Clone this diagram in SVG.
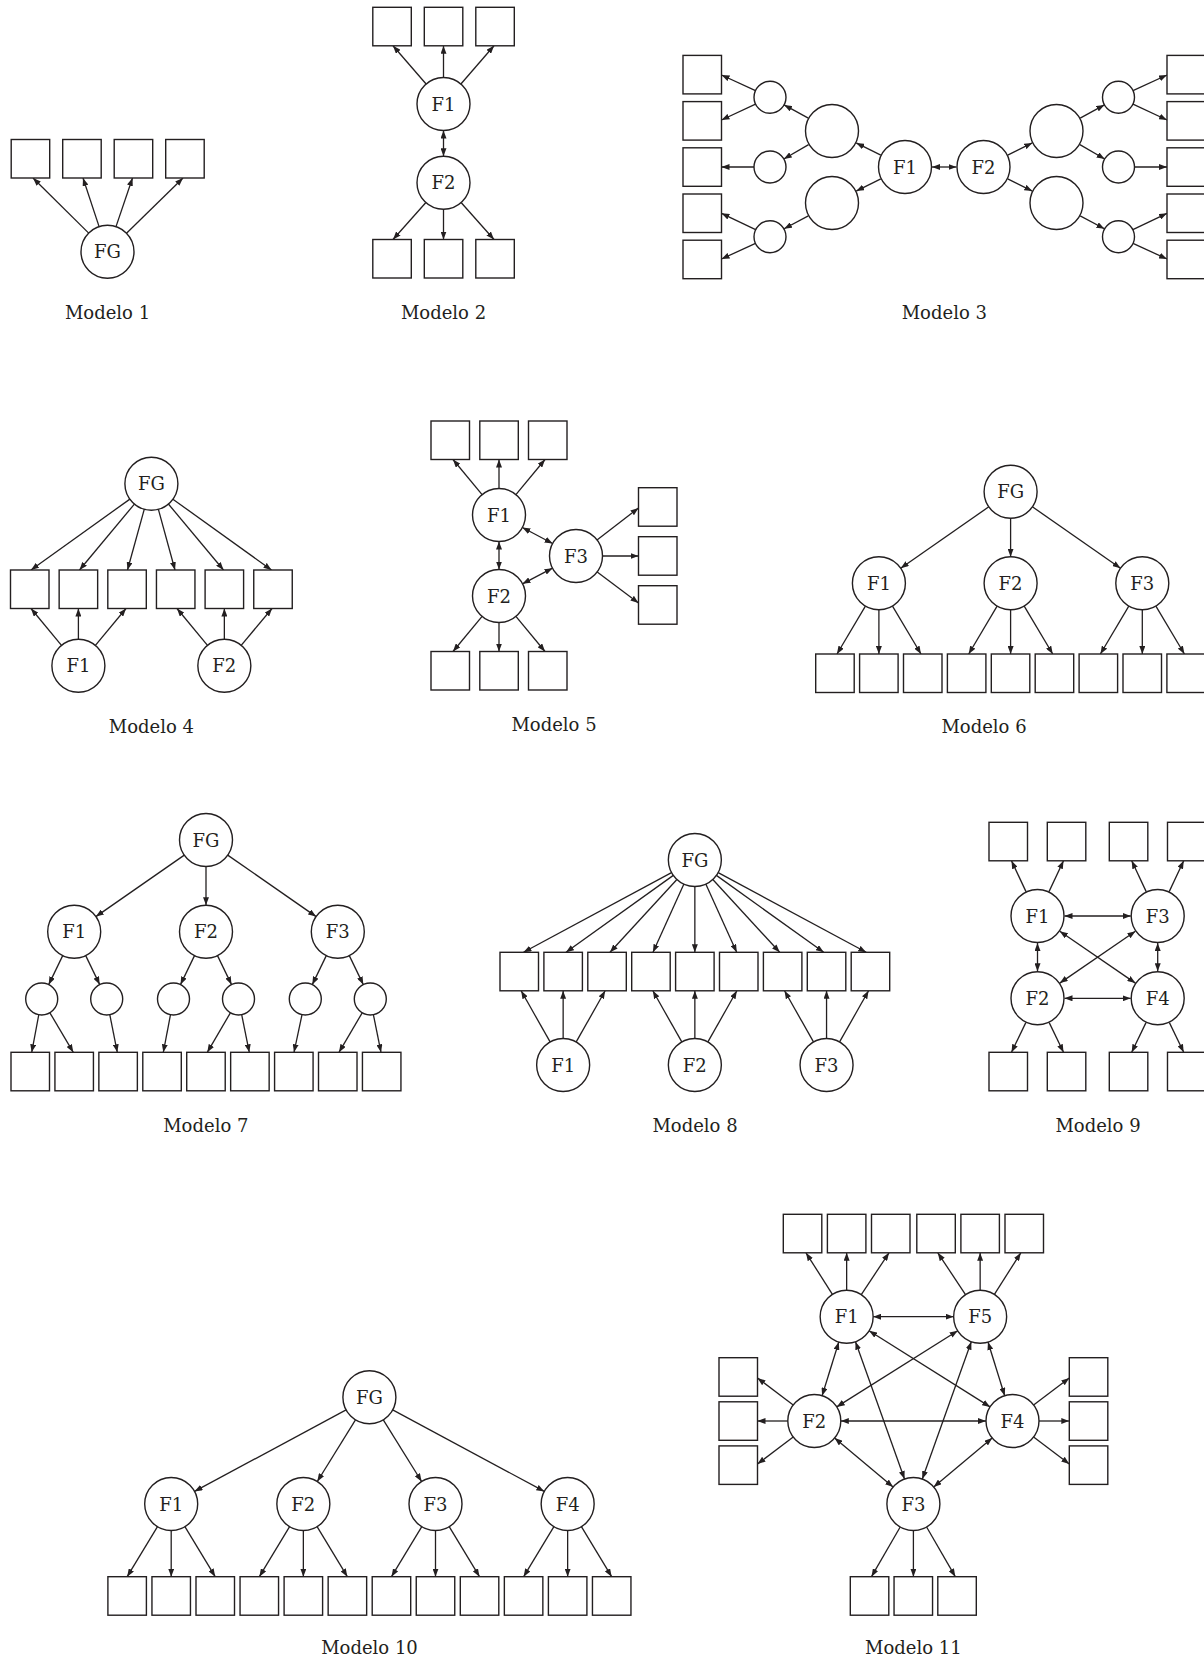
<svg xmlns="http://www.w3.org/2000/svg" width="1204" height="1661" viewBox="0 0 1204 1661">
<style>
rect{fill:#fff;stroke:#231f20;stroke-width:1.4}
circle{fill:#fff;stroke:#231f20;stroke-width:1.4}
line{stroke:#231f20;stroke-width:1.3;fill:none;marker-end:url(#ah)}
line.d{marker-start:url(#ah)}
text{font-family:"DejaVu Serif","Liberation Serif",serif;font-size:18px;fill:#231f20;text-anchor:middle}
</style>
<defs>
<marker id="ah" viewBox="0 0 8 6" refX="8" refY="3" markerWidth="8" markerHeight="6" markerUnits="userSpaceOnUse" orient="auto-start-reverse"><path d="M0,0L8,3L0,6z" fill="#231f20"/></marker>
</defs>
<rect x="0" y="0" width="1204" height="1661" style="fill:#fff;stroke:none"/>

<!-- Modelo 1 -->
<g id="modelo1">
<g id="m1-connectors">
<line x1="88.7" y1="233.1" x2="33" y2="178"/>
<line x1="99.1" y1="226.6" x2="83" y2="178"/>
<line x1="116" y1="226.6" x2="132.5" y2="178"/>
<line x1="126.5" y1="233.2" x2="183" y2="178"/>
</g>
<g id="m1-x1"><rect x="11.2" y="139.5" width="38.5" height="38.5"/></g>
<g id="m1-x2"><rect x="62.7" y="139.5" width="38.5" height="38.5"/></g>
<g id="m1-x3"><rect x="114.2" y="139.5" width="38.5" height="38.5"/></g>
<g id="m1-x4"><rect x="165.7" y="139.5" width="38.5" height="38.5"/></g>
<g id="m1-fg"><circle cx="107.5" cy="251.7" r="26.5"/><text x="107.5" y="258.2">FG</text></g>
<text x="107.5" y="319.3">Modelo 1</text>
</g>

<!-- Modelo 2 -->
<g id="modelo2">
<g id="m2-connectors">
<line x1="426.1" y1="84" x2="393" y2="45.8"/>
<line x1="443.5" y1="77.5" x2="443.5" y2="45.8"/>
<line x1="460.9" y1="84" x2="494" y2="45.8"/>
<line class="d" x1="443.5" y1="130.5" x2="443.5" y2="156.2"/>
<line x1="425.9" y1="202.5" x2="393" y2="239.5"/>
<line x1="443.5" y1="209.2" x2="443.5" y2="239.5"/>
<line x1="461.1" y1="202.5" x2="494" y2="239.5"/>
</g>
<g id="m2-x1"><rect x="372.8" y="7.3" width="38.5" height="38.5"/></g>
<g id="m2-x2"><rect x="424.3" y="7.3" width="38.5" height="38.5"/></g>
<g id="m2-x3"><rect x="475.8" y="7.3" width="38.5" height="38.5"/></g>
<g id="m2-x4"><rect x="372.8" y="239.5" width="38.5" height="38.5"/></g>
<g id="m2-x5"><rect x="424.3" y="239.5" width="38.5" height="38.5"/></g>
<g id="m2-x6"><rect x="475.8" y="239.5" width="38.5" height="38.5"/></g>
<g id="m2-f1"><circle cx="443.5" cy="104" r="26.5"/><text x="443.5" y="110.5">F1</text></g>
<g id="m2-f2"><circle cx="443.5" cy="182.7" r="26.5"/><text x="443.5" y="189.2">F2</text></g>
<text x="443.5" y="319.3">Modelo 2</text>
</g>

<!-- Modelo 3 -->
<g id="modelo3">
<g id="m3-connectors">
<line x1="880.8" y1="155.1" x2="856.2" y2="142.9"/>
<line x1="880.8" y1="178.9" x2="856.2" y2="191.1"/>
<line x1="808.3" y1="118.1" x2="784.1" y2="104.9"/>
<line x1="808.6" y1="144.6" x2="783.8" y2="159"/>
<line x1="808.3" y1="215.9" x2="784.1" y2="228.8"/>
<line x1="755.5" y1="90.6" x2="721.5" y2="75"/>
<line x1="755.5" y1="104.1" x2="721.5" y2="120"/>
<line x1="754" y1="167" x2="721.5" y2="167"/>
<line x1="755.6" y1="229.7" x2="721.5" y2="213.3"/>
<line x1="755.5" y1="243.4" x2="721.5" y2="259"/>
<line class="d" x1="932" y1="167" x2="956.5" y2="167"/>
<line x1="1007.7" y1="155.1" x2="1032.3" y2="142.9"/>
<line x1="1007.7" y1="178.9" x2="1032.3" y2="191.1"/>
<line x1="1080.2" y1="118.1" x2="1104.4" y2="104.9"/>
<line x1="1079.9" y1="144.6" x2="1104.7" y2="159"/>
<line x1="1080.2" y1="215.9" x2="1104.4" y2="228.8"/>
<line x1="1133" y1="90.6" x2="1167" y2="75"/>
<line x1="1133" y1="104.1" x2="1167" y2="120"/>
<line x1="1134.5" y1="167" x2="1167" y2="167"/>
<line x1="1132.9" y1="229.7" x2="1167" y2="213.3"/>
<line x1="1133" y1="243.4" x2="1167" y2="259"/>
</g>
<g id="m3-xl1"><rect x="683" y="55.4" width="38.5" height="38.5"/></g>
<g id="m3-xl2"><rect x="683" y="101.6" width="38.5" height="38.5"/></g>
<g id="m3-xl3"><rect x="683" y="147.8" width="38.5" height="38.5"/></g>
<g id="m3-xl4"><rect x="683" y="194" width="38.5" height="38.5"/></g>
<g id="m3-xl5"><rect x="683" y="240.2" width="38.5" height="38.5"/></g>
<g id="m3-xr1"><rect x="1167" y="55.4" width="38.5" height="38.5"/></g>
<g id="m3-xr2"><rect x="1167" y="101.6" width="38.5" height="38.5"/></g>
<g id="m3-xr3"><rect x="1167" y="147.8" width="38.5" height="38.5"/></g>
<g id="m3-xr4"><rect x="1167" y="194" width="38.5" height="38.5"/></g>
<g id="m3-xr5"><rect x="1167" y="240.2" width="38.5" height="38.5"/></g>
<g id="m3-sl1"><circle cx="770" cy="97.3" r="16"/></g>
<g id="m3-sl2"><circle cx="770" cy="167" r="16"/></g>
<g id="m3-sl3"><circle cx="770" cy="236.7" r="16"/></g>
<g id="m3-bl1"><circle cx="832" cy="131" r="26.5"/></g>
<g id="m3-bl2"><circle cx="832" cy="203" r="26.5"/></g>
<g id="m3-f1"><circle cx="905" cy="167" r="26.5"/><text x="905" y="173.5">F1</text></g>
<g id="m3-f2"><circle cx="983.5" cy="167" r="26.5"/><text x="983.5" y="173.5">F2</text></g>
<g id="m3-br1"><circle cx="1056.5" cy="131" r="26.5"/></g>
<g id="m3-br2"><circle cx="1056.5" cy="203" r="26.5"/></g>
<g id="m3-sr1"><circle cx="1118.5" cy="97.3" r="16"/></g>
<g id="m3-sr2"><circle cx="1118.5" cy="167" r="16"/></g>
<g id="m3-sr3"><circle cx="1118.5" cy="236.7" r="16"/></g>
<text x="944.3" y="319.3">Modelo 3</text>
</g>

<!-- Modelo 4 -->
<g id="modelo4">
<g id="m4-connectors">
<line x1="129.9" y1="499.1" x2="31" y2="570"/>
<line x1="134.4" y1="504.1" x2="79.5" y2="570"/>
<line x1="144.3" y1="509.2" x2="127.5" y2="570"/>
<line x1="158.4" y1="509.3" x2="175" y2="570"/>
<line x1="168.4" y1="504" x2="223.5" y2="570"/>
<line x1="172.9" y1="499.2" x2="271.5" y2="570"/>
<line x1="61.5" y1="645.3" x2="31" y2="608.5"/>
<line x1="78.4" y1="639.2" x2="78.4" y2="608.5"/>
<line x1="95.4" y1="645.3" x2="126" y2="608.5"/>
<line x1="207.5" y1="645.3" x2="177" y2="608.5"/>
<line x1="224.35" y1="639.2" x2="224.35" y2="608.5"/>
<line x1="241.2" y1="645.3" x2="272" y2="608.5"/>
</g>
<g id="m4-x1"><rect x="10.5" y="570" width="38.5" height="38.5"/></g>
<g id="m4-x2"><rect x="59.15" y="570" width="38.5" height="38.5"/></g>
<g id="m4-x3"><rect x="107.8" y="570" width="38.5" height="38.5"/></g>
<g id="m4-x4"><rect x="156.45" y="570" width="38.5" height="38.5"/></g>
<g id="m4-x5"><rect x="205.1" y="570" width="38.5" height="38.5"/></g>
<g id="m4-x6"><rect x="253.75" y="570" width="38.5" height="38.5"/></g>
<g id="m4-fg"><circle cx="151.4" cy="483.7" r="26.5"/><text x="151.4" y="490.2">FG</text></g>
<g id="m4-f1"><circle cx="78.4" cy="665.7" r="26.5"/><text x="78.4" y="672.2">F1</text></g>
<g id="m4-f2"><circle cx="224.35" cy="665.7" r="26.5"/><text x="224.35" y="672.2">F2</text></g>
<text x="151.4" y="733.3">Modelo 4</text>
</g>

<!-- Modelo 5 -->
<g id="modelo5">
<g id="m5-connectors">
<line x1="482.1" y1="494.6" x2="453" y2="459.5"/>
<line x1="499" y1="488.5" x2="499" y2="459.5"/>
<line x1="515.9" y1="494.6" x2="545" y2="459.5"/>
<line x1="482.1" y1="616.4" x2="453" y2="651.5"/>
<line x1="499" y1="622.5" x2="499" y2="651.5"/>
<line x1="515.9" y1="616.4" x2="545" y2="651.5"/>
<line x1="597" y1="539.9" x2="638.5" y2="508"/>
<line x1="602.5" y1="556" x2="638.5" y2="556"/>
<line x1="597.2" y1="571.9" x2="638.5" y2="603"/>
<line class="d" x1="499" y1="541.5" x2="499" y2="569.5"/>
<line class="d" x1="522.4" y1="527.5" x2="552.6" y2="543.5"/>
<line class="d" x1="522.5" y1="583.8" x2="552.5" y2="568.2"/>
</g>
<g id="m5-x1"><rect x="431" y="421" width="38.5" height="38.5"/></g>
<g id="m5-x2"><rect x="479.8" y="421" width="38.5" height="38.5"/></g>
<g id="m5-x3"><rect x="528.5" y="421" width="38.5" height="38.5"/></g>
<g id="m5-x4"><rect x="638.5" y="487.7" width="38.5" height="38.5"/></g>
<g id="m5-x5"><rect x="638.5" y="536.7" width="38.5" height="38.5"/></g>
<g id="m5-x6"><rect x="638.5" y="585.7" width="38.5" height="38.5"/></g>
<g id="m5-x7"><rect x="431" y="651.5" width="38.5" height="38.5"/></g>
<g id="m5-x8"><rect x="479.8" y="651.5" width="38.5" height="38.5"/></g>
<g id="m5-x9"><rect x="528.5" y="651.5" width="38.5" height="38.5"/></g>
<g id="m5-f1"><circle cx="499" cy="515" r="26.5"/><text x="499" y="521.5">F1</text></g>
<g id="m5-f2"><circle cx="499" cy="596" r="26.5"/><text x="499" y="602.5">F2</text></g>
<g id="m5-f3"><circle cx="576" cy="556" r="26.5"/><text x="576" y="562.5">F3</text></g>
<text x="554" y="730.7">Modelo 5</text>
</g>

<!-- Modelo 6 -->
<g id="modelo6">
<g id="m6-connectors">
<line x1="988.8" y1="506.8" x2="900.7" y2="568.2"/>
<line x1="1010.6" y1="518.2" x2="1010.6" y2="556.8"/>
<line x1="1032.4" y1="506.8" x2="1120.5" y2="568.2"/>
<line x1="865.4" y1="606.1" x2="837" y2="654"/>
<line x1="878.9" y1="609.8" x2="878.9" y2="654"/>
<line x1="892.5" y1="606.1" x2="921" y2="654"/>
<line x1="997.1" y1="606.1" x2="968.7" y2="654"/>
<line x1="1010.6" y1="609.8" x2="1010.6" y2="654"/>
<line x1="1024.2" y1="606.1" x2="1052.7" y2="654"/>
<line x1="1128.8" y1="606.1" x2="1100.4" y2="654"/>
<line x1="1142.3" y1="609.8" x2="1142.3" y2="654"/>
<line x1="1155.9" y1="606.1" x2="1184.4" y2="654"/>
</g>
<g id="m6-x1"><rect x="815.7" y="654" width="38.5" height="38.5"/></g>
<g id="m6-x2"><rect x="859.6" y="654" width="38.5" height="38.5"/></g>
<g id="m6-x3"><rect x="903.5" y="654" width="38.5" height="38.5"/></g>
<g id="m6-x4"><rect x="947.4" y="654" width="38.5" height="38.5"/></g>
<g id="m6-x5"><rect x="991.3" y="654" width="38.5" height="38.5"/></g>
<g id="m6-x6"><rect x="1035.2" y="654" width="38.5" height="38.5"/></g>
<g id="m6-x7"><rect x="1079.1" y="654" width="38.5" height="38.5"/></g>
<g id="m6-x8"><rect x="1123" y="654" width="38.5" height="38.5"/></g>
<g id="m6-x9"><rect x="1166.9" y="654" width="38.5" height="38.5"/></g>
<g id="m6-fg"><circle cx="1010.6" cy="491.7" r="26.5"/><text x="1010.6" y="498.2">FG</text></g>
<g id="m6-f1"><circle cx="878.9" cy="583.3" r="26.5"/><text x="878.9" y="589.8">F1</text></g>
<g id="m6-f2"><circle cx="1010.6" cy="583.3" r="26.5"/><text x="1010.6" y="589.8">F2</text></g>
<g id="m6-f3"><circle cx="1142.3" cy="583.3" r="26.5"/><text x="1142.3" y="589.8">F3</text></g>
<text x="984" y="733.3">Modelo 6</text>
</g>

<!-- Modelo 7 -->
<g id="modelo7">
<g id="m7-connectors">
<line x1="184.3" y1="855.1" x2="95.9" y2="916.6"/>
<line x1="206" y1="866.5" x2="206" y2="905.2"/>
<line x1="227.7" y1="855.1" x2="316.1" y2="916.6"/>
<line x1="62.7" y1="955.6" x2="48.7" y2="984.6"/>
<line x1="85.7" y1="955.6" x2="99.7" y2="984.6"/>
<line x1="194.5" y1="955.6" x2="180.5" y2="984.6"/>
<line x1="217.5" y1="955.6" x2="231.5" y2="984.6"/>
<line x1="326.3" y1="955.6" x2="312.3" y2="984.6"/>
<line x1="349.3" y1="955.6" x2="363.3" y2="984.6"/>
<line x1="38.8" y1="1014.7" x2="31.7" y2="1052.3"/>
<line x1="49.9" y1="1012.8" x2="73.3" y2="1052.3"/>
<line x1="109.8" y1="1014.7" x2="117.3" y2="1052.3"/>
<line x1="170.5" y1="1014.7" x2="163.3" y2="1052.3"/>
<line x1="230.4" y1="1012.8" x2="207.3" y2="1052.3"/>
<line x1="241.7" y1="1014.7" x2="249.3" y2="1052.3"/>
<line x1="302" y1="1014.7" x2="294" y2="1052.3"/>
<line x1="362.2" y1="1012.8" x2="339" y2="1052.3"/>
<line x1="373.4" y1="1014.7" x2="381" y2="1052.3"/>
</g>
<g id="m7-x1"><rect x="11" y="1052.3" width="38.5" height="38.5"/></g>
<g id="m7-x2"><rect x="54.93" y="1052.3" width="38.5" height="38.5"/></g>
<g id="m7-x3"><rect x="98.86" y="1052.3" width="38.5" height="38.5"/></g>
<g id="m7-x4"><rect x="142.79" y="1052.3" width="38.5" height="38.5"/></g>
<g id="m7-x5"><rect x="186.72" y="1052.3" width="38.5" height="38.5"/></g>
<g id="m7-x6"><rect x="230.65" y="1052.3" width="38.5" height="38.5"/></g>
<g id="m7-x7"><rect x="274.58" y="1052.3" width="38.5" height="38.5"/></g>
<g id="m7-x8"><rect x="318.51" y="1052.3" width="38.5" height="38.5"/></g>
<g id="m7-x9"><rect x="362.44" y="1052.3" width="38.5" height="38.5"/></g>
<g id="m7-s1"><circle cx="41.7" cy="999" r="16"/></g>
<g id="m7-s2"><circle cx="106.7" cy="999" r="16"/></g>
<g id="m7-s3"><circle cx="173.5" cy="999" r="16"/></g>
<g id="m7-s4"><circle cx="238.5" cy="999" r="16"/></g>
<g id="m7-s5"><circle cx="305.3" cy="999" r="16"/></g>
<g id="m7-s6"><circle cx="370.3" cy="999" r="16"/></g>
<g id="m7-fg"><circle cx="206" cy="840" r="26.5"/><text x="206" y="846.5">FG</text></g>
<g id="m7-f1"><circle cx="74.2" cy="931.7" r="26.5"/><text x="74.2" y="938.2">F1</text></g>
<g id="m7-f2"><circle cx="206" cy="931.7" r="26.5"/><text x="206" y="938.2">F2</text></g>
<g id="m7-f3"><circle cx="337.8" cy="931.7" r="26.5"/><text x="337.8" y="938.2">F3</text></g>
<text x="205.8" y="1131.7">Modelo 7</text>
</g>

<!-- Modelo 8 -->
<g id="modelo8">
<g id="m8-connectors">
<line x1="671.5" y1="872.6" x2="523.5" y2="952.3"/>
<line x1="673.3" y1="875.4" x2="566" y2="952.3"/>
<line x1="676.9" y1="879.5" x2="610" y2="952.3"/>
<line x1="683.9" y1="884.1" x2="653" y2="952.3"/>
<line x1="694.85" y1="886.5" x2="694.85" y2="952.3"/>
<line x1="705.8" y1="884.1" x2="736.7" y2="952.3"/>
<line x1="712.8" y1="879.5" x2="779.7" y2="952.3"/>
<line x1="716.4" y1="875.4" x2="823.7" y2="952.3"/>
<line x1="718.2" y1="872.6" x2="866.2" y2="952.3"/>
<line x1="550.1" y1="1041.9" x2="521.15" y2="990.8"/>
<line x1="563.15" y1="1038.5" x2="563.15" y2="990.8"/>
<line x1="576.2" y1="1041.9" x2="605.15" y2="990.8"/>
<line x1="681.8" y1="1041.9" x2="652.85" y2="990.8"/>
<line x1="694.85" y1="1038.5" x2="694.85" y2="990.8"/>
<line x1="707.9" y1="1041.9" x2="736.85" y2="990.8"/>
<line x1="813.5" y1="1041.9" x2="784.55" y2="990.8"/>
<line x1="826.55" y1="1038.5" x2="826.55" y2="990.8"/>
<line x1="839.6" y1="1041.9" x2="868.55" y2="990.8"/>
</g>
<g id="m8-x1"><rect x="500" y="952.3" width="38.5" height="38.5"/></g>
<g id="m8-x2"><rect x="543.9" y="952.3" width="38.5" height="38.5"/></g>
<g id="m8-x3"><rect x="587.8" y="952.3" width="38.5" height="38.5"/></g>
<g id="m8-x4"><rect x="631.7" y="952.3" width="38.5" height="38.5"/></g>
<g id="m8-x5"><rect x="675.6" y="952.3" width="38.5" height="38.5"/></g>
<g id="m8-x6"><rect x="719.5" y="952.3" width="38.5" height="38.5"/></g>
<g id="m8-x7"><rect x="763.4" y="952.3" width="38.5" height="38.5"/></g>
<g id="m8-x8"><rect x="807.3" y="952.3" width="38.5" height="38.5"/></g>
<g id="m8-x9"><rect x="851.2" y="952.3" width="38.5" height="38.5"/></g>
<g id="m8-fg"><circle cx="694.85" cy="860" r="26.5"/><text x="694.85" y="866.5">FG</text></g>
<g id="m8-f1"><circle cx="563.15" cy="1065" r="26.5"/><text x="563.15" y="1071.5">F1</text></g>
<g id="m8-f2"><circle cx="694.85" cy="1065" r="26.5"/><text x="694.85" y="1071.5">F2</text></g>
<g id="m8-f3"><circle cx="826.55" cy="1065" r="26.5"/><text x="826.55" y="1071.5">F3</text></g>
<text x="695" y="1131.7">Modelo 8</text>
</g>

<!-- Modelo 9 -->
<g id="modelo9">
<g id="m9-connectors">
<line x1="1026" y1="891.6" x2="1011.5" y2="860.8"/>
<line x1="1049" y1="891.6" x2="1063.5" y2="860.8"/>
<line x1="1146.2" y1="891.6" x2="1131.7" y2="860.8"/>
<line x1="1169.2" y1="891.6" x2="1183.7" y2="860.8"/>
<line x1="1025.8" y1="1022.6" x2="1011.5" y2="1052.3"/>
<line x1="1049.2" y1="1022.6" x2="1063.5" y2="1052.3"/>
<line x1="1146" y1="1022.6" x2="1131.7" y2="1052.3"/>
<line x1="1169.4" y1="1022.6" x2="1183.7" y2="1052.3"/>
<line class="d" x1="1064.5" y1="916" x2="1130.7" y2="916"/>
<line class="d" x1="1064.5" y1="998.3" x2="1130.7" y2="998.3"/>
<line class="d" x1="1037.5" y1="943" x2="1037.5" y2="971.3"/>
<line class="d" x1="1157.7" y1="943" x2="1157.7" y2="971.3"/>
<line class="d" x1="1059.8" y1="931.3" x2="1135.4" y2="983.1"/>
<line class="d" x1="1135.4" y1="931.3" x2="1059.8" y2="983.1"/>
</g>
<g id="m9-x1"><rect x="989" y="822.3" width="38.5" height="38.5"/></g>
<g id="m9-x2"><rect x="1047.3" y="822.3" width="38.5" height="38.5"/></g>
<g id="m9-x3"><rect x="1109.3" y="822.3" width="38.5" height="38.5"/></g>
<g id="m9-x4"><rect x="1167.5" y="822.3" width="38.5" height="38.5"/></g>
<g id="m9-x5"><rect x="989" y="1052.3" width="38.5" height="38.5"/></g>
<g id="m9-x6"><rect x="1047.3" y="1052.3" width="38.5" height="38.5"/></g>
<g id="m9-x7"><rect x="1109.3" y="1052.3" width="38.5" height="38.5"/></g>
<g id="m9-x8"><rect x="1167.5" y="1052.3" width="38.5" height="38.5"/></g>
<g id="m9-f1"><circle cx="1037.5" cy="916" r="26.5"/><text x="1037.5" y="922.5">F1</text></g>
<g id="m9-f3"><circle cx="1157.7" cy="916" r="26.5"/><text x="1157.7" y="922.5">F3</text></g>
<g id="m9-f2"><circle cx="1037.5" cy="998.3" r="26.5"/><text x="1037.5" y="1004.8">F2</text></g>
<g id="m9-f4"><circle cx="1157.7" cy="998.3" r="26.5"/><text x="1157.7" y="1004.8">F4</text></g>
<text x="1098" y="1131.7">Modelo 9</text>
</g>

<!-- Modelo 10 -->
<g id="modelo10">
<g id="m10-connectors">
<line x1="346.1" y1="1409.9" x2="194.5" y2="1491.4"/>
<line x1="355.5" y1="1419.8" x2="317.3" y2="1481.5"/>
<line x1="383.3" y1="1419.8" x2="421.6" y2="1481.5"/>
<line x1="392.7" y1="1409.9" x2="544.3" y2="1491.4"/>
<line x1="157.5" y1="1526.7" x2="127.2" y2="1576.7"/>
<line x1="171.2" y1="1530.5" x2="171.2" y2="1576.7"/>
<line x1="184.9" y1="1526.7" x2="215.2" y2="1576.7"/>
<line x1="289.6" y1="1526.7" x2="259.35" y2="1576.7"/>
<line x1="303.35" y1="1530.5" x2="303.35" y2="1576.7"/>
<line x1="317.1" y1="1526.7" x2="347.35" y2="1576.7"/>
<line x1="421.8" y1="1526.7" x2="391.5" y2="1576.7"/>
<line x1="435.5" y1="1530.5" x2="435.5" y2="1576.7"/>
<line x1="449.2" y1="1526.7" x2="479.5" y2="1576.7"/>
<line x1="553.9" y1="1526.7" x2="523.65" y2="1576.7"/>
<line x1="567.65" y1="1530.5" x2="567.65" y2="1576.7"/>
<line x1="581.4" y1="1526.7" x2="611.65" y2="1576.7"/>
</g>
<g id="m10-x1"><rect x="107.9" y="1576.7" width="38.5" height="38.5"/></g>
<g id="m10-x2"><rect x="151.95" y="1576.7" width="38.5" height="38.5"/></g>
<g id="m10-x3"><rect x="196" y="1576.7" width="38.5" height="38.5"/></g>
<g id="m10-x4"><rect x="240.05" y="1576.7" width="38.5" height="38.5"/></g>
<g id="m10-x5"><rect x="284.1" y="1576.7" width="38.5" height="38.5"/></g>
<g id="m10-x6"><rect x="328.15" y="1576.7" width="38.5" height="38.5"/></g>
<g id="m10-x7"><rect x="372.2" y="1576.7" width="38.5" height="38.5"/></g>
<g id="m10-x8"><rect x="416.25" y="1576.7" width="38.5" height="38.5"/></g>
<g id="m10-x9"><rect x="460.3" y="1576.7" width="38.5" height="38.5"/></g>
<g id="m10-x10"><rect x="504.35" y="1576.7" width="38.5" height="38.5"/></g>
<g id="m10-x11"><rect x="548.4" y="1576.7" width="38.5" height="38.5"/></g>
<g id="m10-x12"><rect x="592.45" y="1576.7" width="38.5" height="38.5"/></g>
<g id="m10-fg"><circle cx="369.4" cy="1397.3" r="26.5"/><text x="369.4" y="1403.8">FG</text></g>
<g id="m10-f1"><circle cx="171.2" cy="1504" r="26.5"/><text x="171.2" y="1510.5">F1</text></g>
<g id="m10-f2"><circle cx="303.35" cy="1504" r="26.5"/><text x="303.35" y="1510.5">F2</text></g>
<g id="m10-f3"><circle cx="435.5" cy="1504" r="26.5"/><text x="435.5" y="1510.5">F3</text></g>
<g id="m10-f4"><circle cx="567.65" cy="1504" r="26.5"/><text x="567.65" y="1510.5">F4</text></g>
<text x="369.5" y="1654">Modelo 10</text>
</g>

<!-- Modelo 11 -->
<g id="modelo11">
<g id="m11-connectors">
<line x1="832.4" y1="1294.3" x2="806" y2="1252.8"/>
<line x1="846.65" y1="1290.2" x2="846.65" y2="1252.8"/>
<line x1="861.3" y1="1294.6" x2="889" y2="1252.8"/>
<line x1="965.5" y1="1294.6" x2="937.8" y2="1252.8"/>
<line x1="980.15" y1="1290.2" x2="980.15" y2="1252.8"/>
<line x1="994.4" y1="1294.3" x2="1020.8" y2="1252.8"/>
<line x1="793.2" y1="1405" x2="757.5" y2="1378"/>
<line x1="787.8" y1="1421" x2="757.5" y2="1421"/>
<line x1="793.2" y1="1437" x2="757.5" y2="1464"/>
<line x1="1033.6" y1="1405" x2="1069.3" y2="1378"/>
<line x1="1039" y1="1421" x2="1069.3" y2="1421"/>
<line x1="1033.6" y1="1437" x2="1069.3" y2="1464"/>
<line x1="900.2" y1="1527" x2="871.5" y2="1576.7"/>
<line x1="913.4" y1="1530.5" x2="913.4" y2="1576.7"/>
<line x1="926.6" y1="1527" x2="955.3" y2="1576.7"/>
<line class="d" x1="873.15" y1="1316.7" x2="953.65" y2="1316.7"/>
<line class="d" x1="840.8" y1="1421" x2="986" y2="1421"/>
<line class="d" x1="838.8" y1="1342" x2="822.1" y2="1395.7"/>
<line class="d" x1="988" y1="1342" x2="1004.7" y2="1395.7"/>
<line class="d" x1="855.5" y1="1341.7" x2="904.5" y2="1479"/>
<line class="d" x1="971.3" y1="1341.7" x2="922.3" y2="1479"/>
<line class="d" x1="869.1" y1="1330.8" x2="990.1" y2="1406.9"/>
<line class="d" x1="957.7" y1="1330.8" x2="836.7" y2="1406.9"/>
<line class="d" x1="834.6" y1="1438" x2="893.1" y2="1487"/>
<line class="d" x1="992.2" y1="1438" x2="933.7" y2="1487"/>
</g>
<g id="m11-x1"><rect x="783.3" y="1214.3" width="38.5" height="38.5"/></g>
<g id="m11-x2"><rect x="827.4" y="1214.3" width="38.5" height="38.5"/></g>
<g id="m11-x3"><rect x="871.5" y="1214.3" width="38.5" height="38.5"/></g>
<g id="m11-x4"><rect x="916.8" y="1214.3" width="38.5" height="38.5"/></g>
<g id="m11-x5"><rect x="960.9" y="1214.3" width="38.5" height="38.5"/></g>
<g id="m11-x6"><rect x="1005" y="1214.3" width="38.5" height="38.5"/></g>
<g id="m11-x7"><rect x="719" y="1357.7" width="38.5" height="38.5"/></g>
<g id="m11-x8"><rect x="719" y="1401.8" width="38.5" height="38.5"/></g>
<g id="m11-x9"><rect x="719" y="1445.9" width="38.5" height="38.5"/></g>
<g id="m11-x10"><rect x="1069.3" y="1357.7" width="38.5" height="38.5"/></g>
<g id="m11-x11"><rect x="1069.3" y="1401.8" width="38.5" height="38.5"/></g>
<g id="m11-x12"><rect x="1069.3" y="1445.9" width="38.5" height="38.5"/></g>
<g id="m11-x13"><rect x="850.3" y="1576.7" width="38.5" height="38.5"/></g>
<g id="m11-x14"><rect x="894.05" y="1576.7" width="38.5" height="38.5"/></g>
<g id="m11-x15"><rect x="937.8" y="1576.7" width="38.5" height="38.5"/></g>
<g id="m11-f1"><circle cx="846.65" cy="1316.7" r="26.5"/><text x="846.65" y="1323.2">F1</text></g>
<g id="m11-f5"><circle cx="980.15" cy="1316.7" r="26.5"/><text x="980.15" y="1323.2">F5</text></g>
<g id="m11-f2"><circle cx="814.3" cy="1421" r="26.5"/><text x="814.3" y="1427.5">F2</text></g>
<g id="m11-f4"><circle cx="1012.5" cy="1421" r="26.5"/><text x="1012.5" y="1427.5">F4</text></g>
<g id="m11-f3"><circle cx="913.4" cy="1504" r="26.5"/><text x="913.4" y="1510.5">F3</text></g>
<text x="913.3" y="1654">Modelo 11</text>
</g>
</svg>
